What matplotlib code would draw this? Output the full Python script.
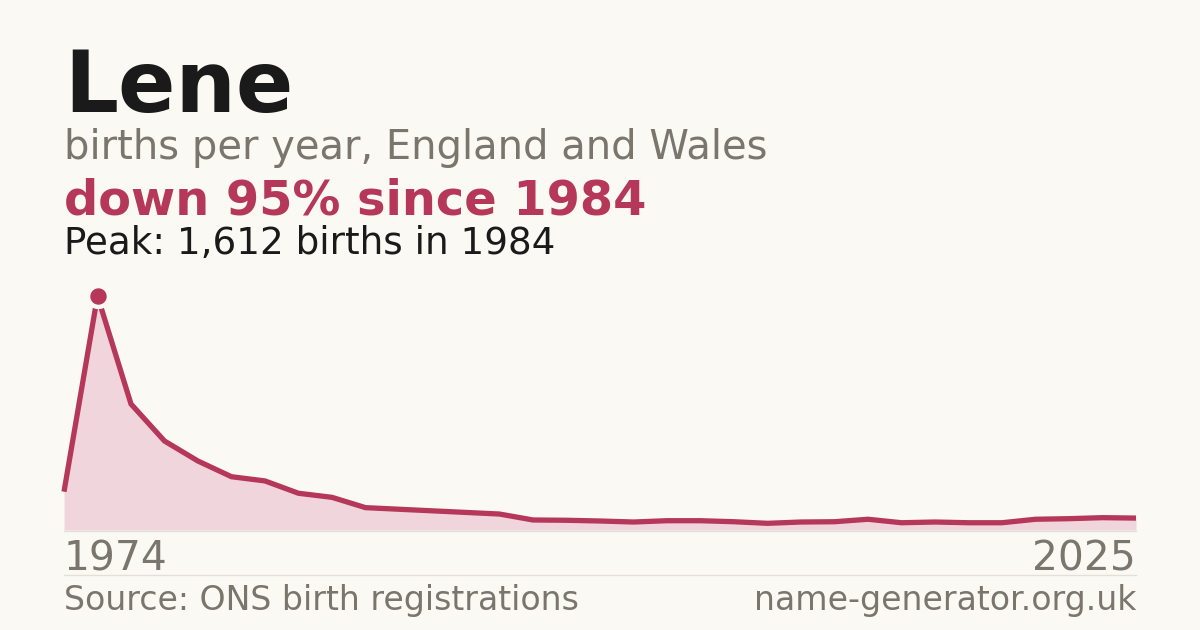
import matplotlib
matplotlib.use("Agg")
from matplotlib import pyplot as plt
import numpy as np

# Births per year (points in order, first = 1974, last = 2025)
first_year, last_year = 1974, 2025
births = [264, 1612, 868, 613, 475, 367, 338, 253, 225, 154, 143, 132, 121,
          110, 69, 67, 62, 55, 64, 64, 57, 46, 55, 57, 74, 50, 55, 50, 50,
          74, 78, 85, 82]
peak_value, peak_year = 1612, 1984

name = "Lene"
subtitle = "births per year, England and Wales"
headline = "down 95% since 1984"
peak_text = "Peak: 1,612 births in 1984"
source_text = "Source: ONS birth registrations"
site_text = "name-generator.org.uk"

# Colours
bg = '#faf9f4'
crimson = '#b5375a'
fill_col = '#f0d6dc'
grey = '#7a766e'
dark = '#1a1a1a'

W, H = 1200, 630
fig = plt.figure(figsize=(12, 6.3), dpi=100, facecolor=bg)

def fy(px):
    return 1 - px / H

# Header texts
fig.text(64 / W, fy(111.7), name, fontsize=61, fontweight='bold', color=dark, va='baseline', ha='left')
fig.text(64 / W, fy(159.3), subtitle, fontsize=28.8, color=grey, va='baseline', ha='left')
fig.text(64 / W, fy(214.3), headline, fontsize=34.5, fontweight='bold', color=crimson, va='baseline', ha='left')
fig.text(64 / W, fy(253.5), peak_text, fontsize=26.8, color=dark, va='baseline', ha='left')

# Chart area
ax = fig.add_axes([64 / W, fy(530), 1072 / W, 234 / H])
ax.set_facecolor(bg)
x = np.arange(len(births))
ax.fill_between(x, births, 0, color=fill_col, lw=0)
ax.plot(x, births, color=crimson, lw=3.8, solid_joinstyle='miter',
        solid_capstyle='butt', clip_on=False)
peak_idx = births.index(peak_value)
ax.plot([peak_idx], [peak_value], 'o', ms=15, color=crimson, mec=bg, mew=3.2, clip_on=False, zorder=5)
ax.set_xlim(0, len(births) - 1)
ax.set_ylim(0, peak_value)
ax.axis('off')

# Axis base line and year labels
fig.add_artist(plt.Line2D([64 / W, 1136 / W], [fy(530.5), fy(530.5)], color='#e2e0d8', lw=1))
fig.text(64 / W, fy(570.7), str(first_year), fontsize=29.3, color=grey, va='baseline', ha='left')
fig.text(1136 / W, fy(570.7), str(last_year), fontsize=29.3, color=grey, va='baseline', ha='right')

# Footer
fig.add_artist(plt.Line2D([64 / W, 1136 / W], [fy(574.5), fy(574.5)], color='#e2e0d8', lw=1))
fig.text(64 / W, fy(610), source_text, fontsize=23.9, color=grey, va='baseline', ha='left')
fig.text(1136 / W, fy(610), site_text, fontsize=23.9, color=grey, va='baseline', ha='right')

fig.savefig('out.png', dpi=100, facecolor=bg)
